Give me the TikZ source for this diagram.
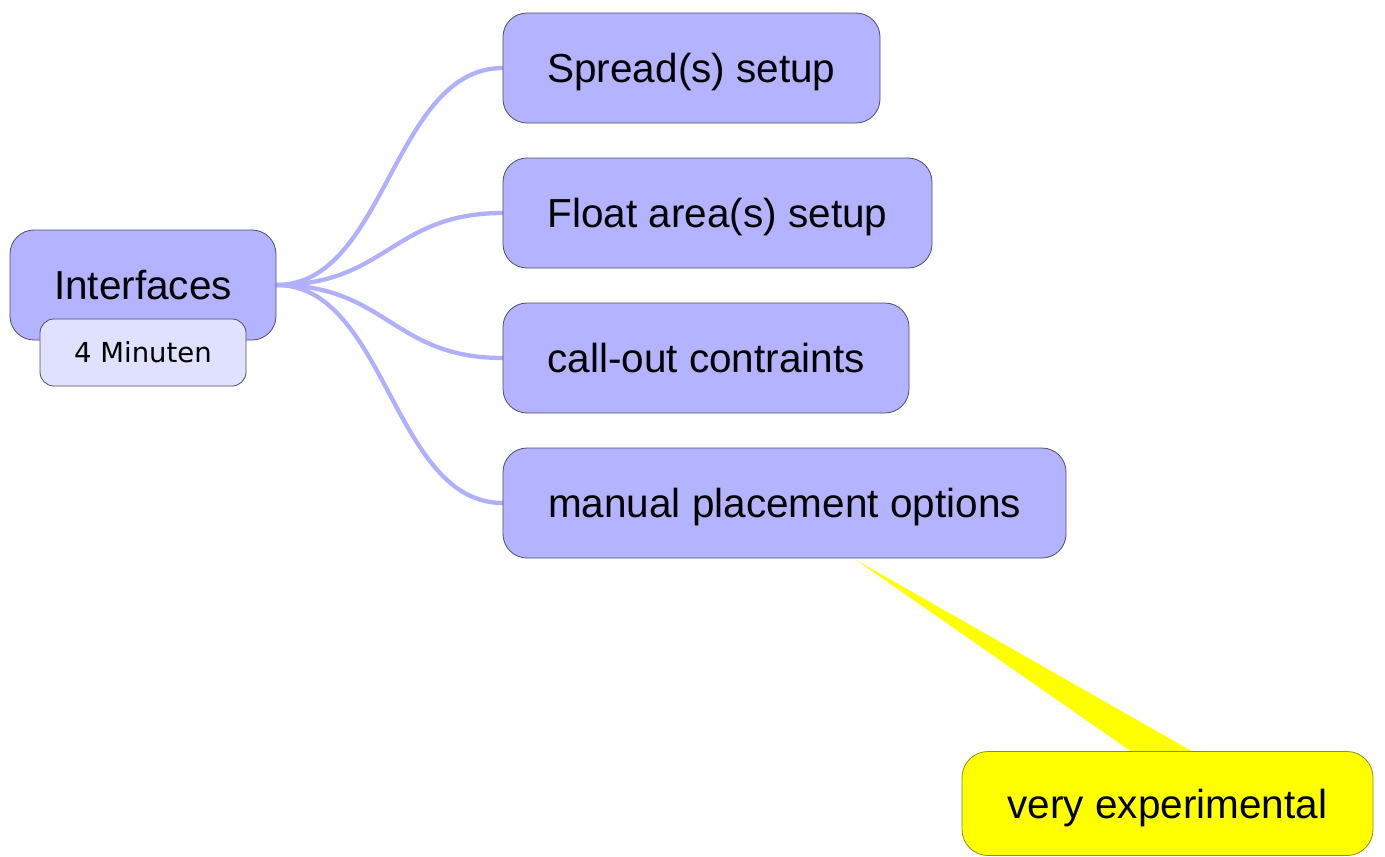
\documentclass[tikz,border=0pt]{standalone}
\usepackage{fontspec}
\setmainfont{Liberation Sans}
\newfontfamily\subfont{DejaVu Sans}
\usetikzlibrary{backgrounds}
\definecolor{lav}{HTML}{B3B3FF}
\definecolor{lavlight}{HTML}{E0E0FF}
\definecolor{edgeblue}{HTML}{B0B0FF}
\definecolor{bordr}{HTML}{4D4D66}
\definecolor{yelbord}{HTML}{8C8C2A}
\definecolor{yel}{HTML}{FFFF00}
\tikzset{
  topic/.style={draw=bordr, line width=0.8pt, fill=lav, rounded corners=24pt,
    minimum height=110pt, inner xsep=0pt, align=center,
    text height=29pt, text depth=0pt,
    font=\fontsize{40.5}{48}\selectfont},
  subtag/.style={draw=bordr, line width=0.8pt, fill=lavlight, rounded corners=14pt,
    minimum width=206pt, minimum height=67pt, inner sep=0pt,
    text height=20pt, text depth=0pt,
    font=\subfont\fontsize{27.5}{32}\selectfont},
  note/.style={draw=yelbord, line width=0.8pt, fill=yel, rounded corners=26pt,
    minimum width=411pt, minimum height=104pt, inner sep=0pt,
    text height=29pt, text depth=0pt,
    font=\fontsize{40.5}{48}\selectfont},
  branch/.style={draw=edgeblue, line width=4.3pt, line cap=round}
}
\begin{document}
\begin{tikzpicture}[x=1pt,y=-1pt]
\useasboundingbox (0,0) rectangle (1385,857);
\node[topic, minimum width=266pt] (root) at (143,285) {Interfaces};
\node[subtag] (time) at (143,352.5) {4 Minuten};
\node[topic, minimum width=377pt] (n1) at (691.5,68) {Spread(s) setup};
\node[topic, minimum width=429pt] (n2) at (717.5,213) {Float area(s) setup};
\node[topic, minimum width=406pt] (n3) at (706,358) {call-out contraints};
\node[topic, minimum width=563pt] (n4) at (784.5,503) {manual placement options};
\node[note] (ve) at (1167.5,803.5) {very experimental};
\coordinate (tip) at (856,560);
\begin{scope}[on background layer]
\fill[yel] (tip) -- ([xshift=-32.5pt,yshift=-3pt]ve.north) -- ([xshift=29.5pt,yshift=-3pt]ve.north) -- cycle;
\foreach \t in {n1,n2,n3,n4}{
  \draw[branch] (root.east) .. controls +(110,0) and +(-110,0) .. (\t.west);
}
\end{scope}
\end{tikzpicture}
\end{document}
